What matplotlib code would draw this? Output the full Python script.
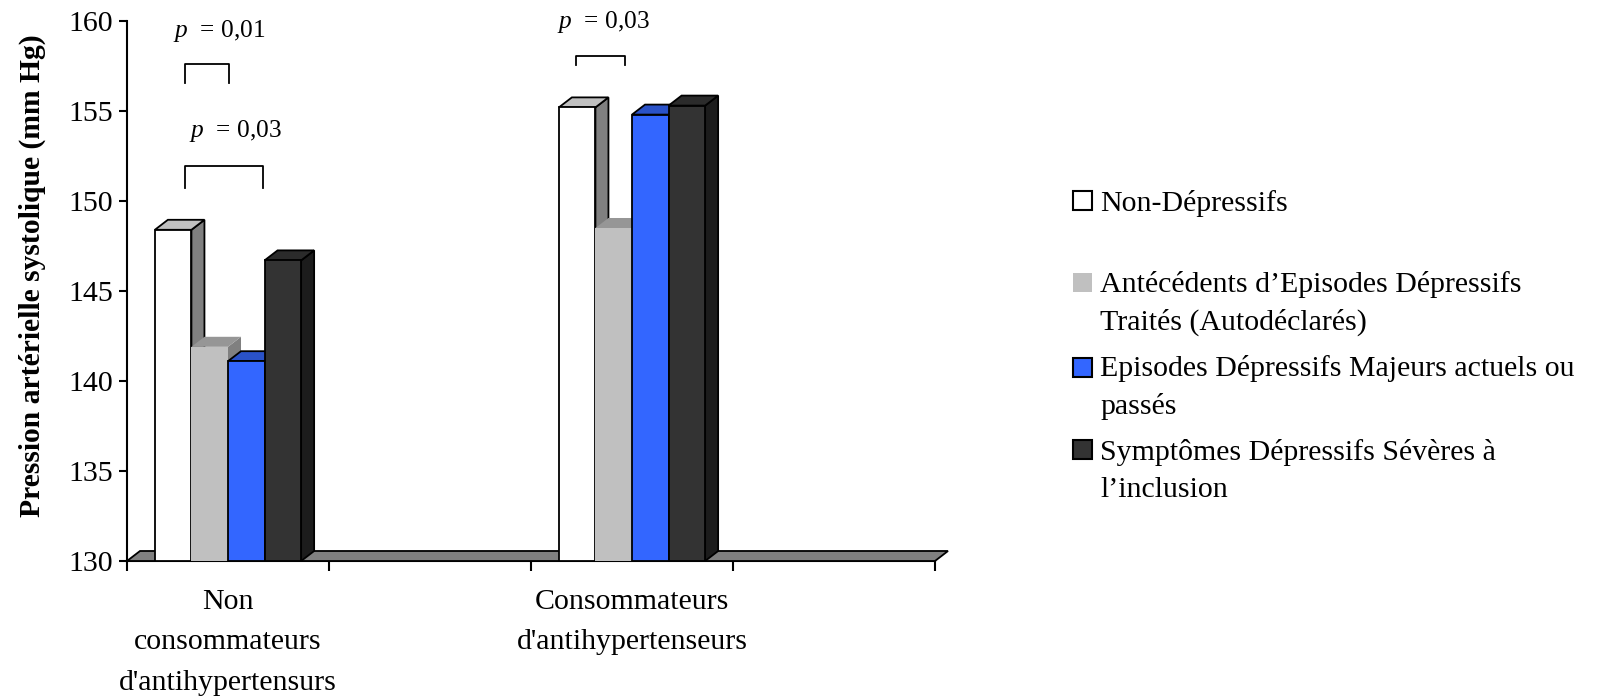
import numpy as np
import matplotlib.pyplot as plt
from matplotlib.patches import Polygon, Rectangle

plt.rcParams['font.family'] = 'Liberation Serif'
plt.rcParams['mathtext.fontset'] = 'custom'
plt.rcParams['mathtext.rm'] = 'Liberation Serif'
plt.rcParams['mathtext.it'] = 'Liberation Serif:italic'

# data
categories = ["Non\nconsommateurs\nd'antihypertensurs", "",
              "Consommateurs\nd'antihypertenseurs", ""]
series_names = ["Non-Dépressifs",
                "Antécédents d’Episodes Dépressifs\nTraités (Autodéclarés)",
                "Episodes Dépressifs Majeurs actuels ou\npassés",
                "Symptômes Dépressifs Sévères à\nl’inclusion"]
non_depressifs = [148.4, np.nan, 155.2, np.nan]
antecedents = [141.9, np.nan, 148.5, np.nan]
edm = [141.1, np.nan, 154.8, np.nan]
symptomes = [146.7, np.nan, 155.3, np.nan]
values = [non_depressifs, antecedents, edm, symptomes]

# (front, top, side, edge)
styles = [("#ffffff", "#c0c0c0", "#808080", "black"),
          ("#c0c0c0", "#969696", "#808080", "none"),
          ("#3366ff", "#2a52c8", "#1f3f9f", "black"),
          ("#333333", "#2b2b2b", "#1c1c1c", "black")]

# significance brackets: category, x0, x1, bracket y, leg y, text, text x, text y
brackets = [(0, 0.287, 0.505, 157.6, 156.55, "0,01", 0.455, 159.45),
            (0, 0.287, 0.673, 151.95, 150.7, "0,03", 0.537, 153.9),
            (2, 0.223, 0.465, 158.05, 157.55, "0,03", 0.358, 159.95)]

ymin, ymax = 130, 160
bar_w = 0.181
dx, dy = 0.0644, 0.556   # depth offset, in data units

fig = plt.figure(figsize=(16.23, 6.98), dpi=100)
ax = fig.add_axes([127 / 1623, 137 / 698, 808 / 1623, 540 / 698])
ax.set_xlim(0, len(categories))
ax.set_ylim(ymin, ymax)


def face(pts, fc, ec, z):
    ax.add_patch(Polygon(pts, closed=True, facecolor=fc, edgecolor=ec,
                         linewidth=1.3, zorder=z, clip_on=False,
                         joinstyle='miter'))


# floor
n = len(categories)
face([(0, ymin), (dx, ymin + dy), (n + dx, ymin + dy), (n, ymin)],
     "#808080", "black", 1)

z = 2
for ci in range(n):
    for si, vals in enumerate(values):
        v = vals[ci]
        if np.isnan(v):
            continue
        fr, tp, sd, ec = styles[si]
        x0 = ci + 0.5 - 2 * bar_w + si * bar_w
        x1 = x0 + bar_w
        face([(x1, ymin), (x1 + dx, ymin + dy), (x1 + dx, v + dy), (x1, v)], sd, ec, z)
        face([(x0, v), (x0 + dx, v + dy), (x1 + dx, v + dy), (x1, v)], tp, ec, z + 0.1)
        face([(x0, ymin), (x0, v), (x1, v), (x1, ymin)], fr, ec, z + 0.2)
        z += 1

for ci, x0, x1, yb, yl, txt, xt, yt in brackets:
    ax.plot([ci + x0, ci + x0, ci + x1, ci + x1], [yl, yb, yb, yl],
            color="black", lw=1.3, zorder=50, clip_on=False)
    ax.text(ci + xt, yt, r"$p$  = " + txt, ha="center", va="center",
            fontsize=18.3, zorder=50)

ax.spines[['top', 'right']].set_visible(False)
for s in ['left', 'bottom']:
    ax.spines[s].set_linewidth(1.5)
    ax.spines[s].set_zorder(0.5)
ax.set_yticks(np.arange(ymin, ymax + 1, 5))
ax.tick_params(axis='y', labelsize=21.5, length=6, width=1.5, pad=4)
ax.set_xticks(np.arange(0, n + 1))
ax.set_xticklabels([])
ax.tick_params(axis='x', which='major', length=7, width=1.5)
ax.set_xticks(np.arange(n) + 0.5, minor=True)
ax.set_xticklabels(categories, minor=True, fontsize=21.5, linespacing=1.72)
ax.tick_params(axis='x', which='minor', length=0, pad=20)

fig.text(32 / 1623, 1 - 276 / 698, "Pression artérielle systolique (mm Hg)",
         rotation=90, ha="center", va="center", fontsize=21.3, fontweight="bold")

# legend
legend_y = [210.7, 293.3, 377.5, 460]
line_step = 36.7
for si, name in enumerate(series_names):
    fr, tp, sd, ec = styles[si]
    yb = legend_y[si]
    nlines = name.count("\n")
    fig.patches.append(Rectangle((1073 / 1623, 1 - (yb - 1) / 698), 19 / 1623, 19 / 698,
                                 transform=fig.transFigure, facecolor=fr,
                                 edgecolor=ec, linewidth=1.5))
    fig.text(1100 / 1623, 1 - (yb + nlines * line_step) / 698, name,
             ha="left", va="baseline", fontsize=21.5, linespacing=1.54)

fig.savefig("out.png", dpi=100)
